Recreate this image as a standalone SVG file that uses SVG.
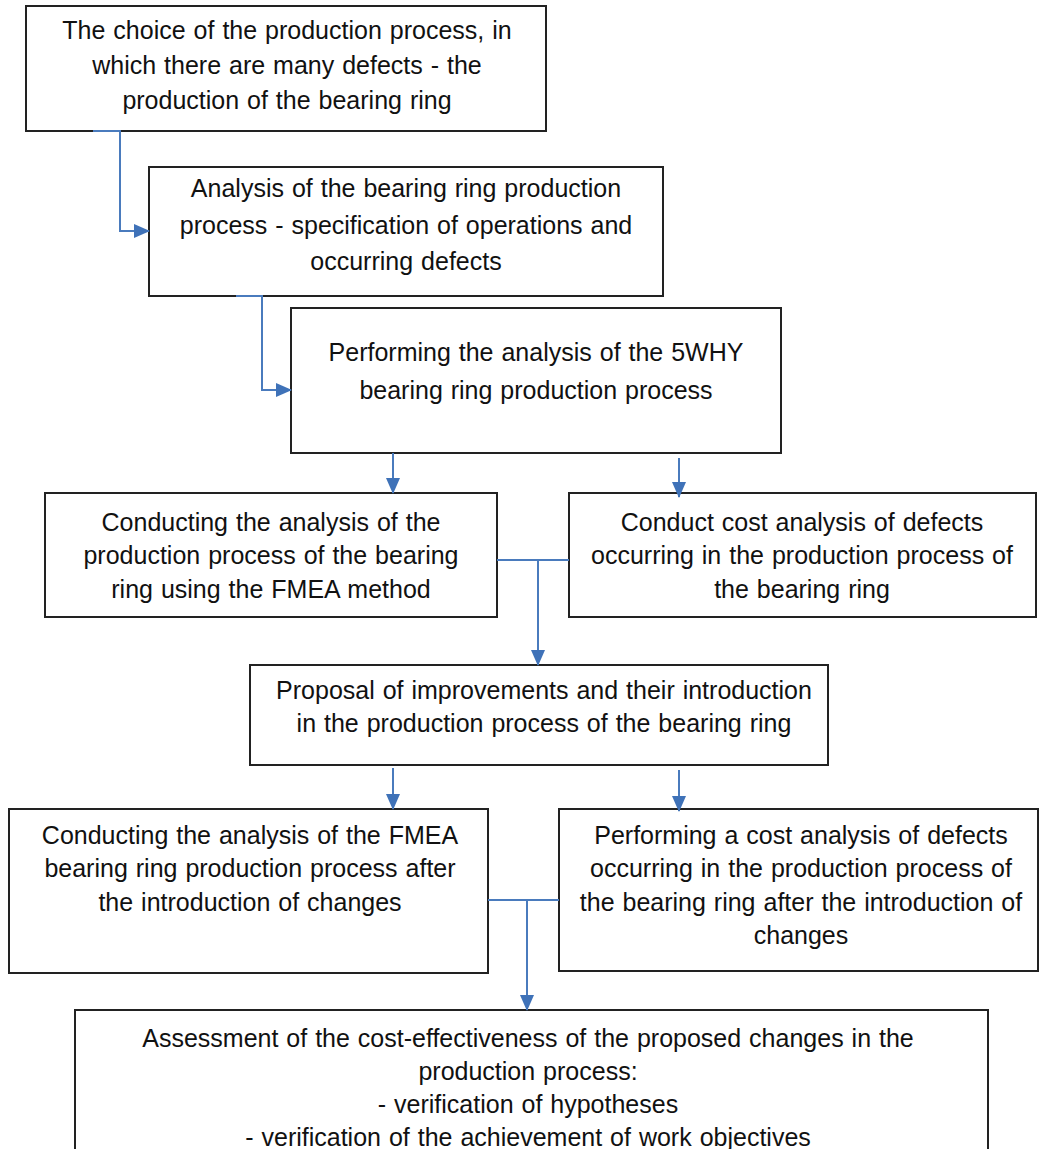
<svg xmlns="http://www.w3.org/2000/svg" width="1042" height="1149" viewBox="0 0 1042 1149">
<style>
.box{fill:#fff;stroke:#222;stroke-width:2}
.t{font-family:"Liberation Sans",Arial,sans-serif;font-size:25px;word-spacing:1px;fill:#111;text-anchor:middle}
.c{fill:none;stroke:#4a7bbd;stroke-width:2}
</style>
<defs>
<marker id="ah" markerUnits="userSpaceOnUse" markerWidth="16" markerHeight="14" refX="15" refY="7" orient="auto">
<path d="M0,0 L16,7 L0,14 Z" fill="#3f72b8"/>
</marker>
</defs>
<rect width="1042" height="1149" fill="#fff"/>
<g id="n1"><rect class="box" x="26" y="6" width="520" height="125"/>
<text class="t" x="287" y="39">The choice of the production process, in</text>
<text class="t" x="287" y="74">which there are many defects - the</text>
<text class="t" x="287" y="109">production of the bearing ring</text></g>
<g id="n2"><rect class="box" x="149" y="167" width="514" height="129"/>
<text class="t" x="406" y="197">Analysis of the bearing ring production</text>
<text class="t" x="406" y="234">process - specification of operations and</text>
<text class="t" x="406" y="270">occurring defects</text></g>
<g id="n3"><rect class="box" x="291" y="308" width="490" height="145"/>
<text class="t" x="536" y="361">Performing the analysis of the 5WHY</text>
<text class="t" x="536" y="399">bearing ring production process</text></g>
<g id="n4"><rect class="box" x="45" y="493" width="452" height="124"/>
<text class="t" x="271" y="531">Conducting the analysis of the</text>
<text class="t" x="271" y="564">production process of the bearing</text>
<text class="t" x="271" y="598">ring using the FMEA method</text></g>
<g id="n5"><rect class="box" x="569" y="493" width="467" height="124"/>
<text class="t" x="802" y="531">Conduct cost analysis of defects</text>
<text class="t" x="802" y="564">occurring in the production process of</text>
<text class="t" x="802" y="598">the bearing ring</text></g>
<g id="n6"><rect class="box" x="250" y="665" width="578" height="100"/>
<text class="t" x="544" y="699">Proposal of improvements and their introduction</text>
<text class="t" x="544" y="732">in the production process of the bearing ring</text></g>
<g id="n7"><rect class="box" x="9" y="809" width="479" height="164"/>
<text class="t" x="250" y="844">Conducting the analysis of the FMEA</text>
<text class="t" x="250" y="877">bearing ring production process after</text>
<text class="t" x="250" y="911">the introduction of changes</text></g>
<g id="n8"><rect class="box" x="559" y="809" width="479" height="162"/>
<text class="t" x="801" y="844">Performing a cost analysis of defects</text>
<text class="t" x="801" y="877">occurring in the production process of</text>
<text class="t" x="801" y="911">the bearing ring after the introduction of</text>
<text class="t" x="801" y="944">changes</text></g>
<g id="n9"><rect class="box" x="75" y="1010" width="913" height="160"/>
<text class="t" x="528" y="1047">Assessment of the cost-effectiveness of the proposed changes in the</text>
<text class="t" x="528" y="1080">production process:</text>
<text class="t" x="528" y="1113">- verification of hypotheses</text>
<text class="t" x="528" y="1146">- verification of the achievement of work objectives</text></g>
<g id="connectors">
<path class="c" d="M93,131 H120 V231 H149" marker-end="url(#ah)"/>
<path class="c" d="M236,296 H262 V390 H291" marker-end="url(#ah)"/>
<path class="c" d="M393,453 V493" marker-end="url(#ah)"/>
<path class="c" d="M679,458 V497" marker-end="url(#ah)"/>
<path class="c" d="M497,560 H569"/>
<path class="c" d="M538,560 V665" marker-end="url(#ah)"/>
<path class="c" d="M393,768 V809" marker-end="url(#ah)"/>
<path class="c" d="M679,770 V811" marker-end="url(#ah)"/>
<path class="c" d="M488,900 H559"/>
<path class="c" d="M527,900 V1010" marker-end="url(#ah)"/>
</g>
</svg>
